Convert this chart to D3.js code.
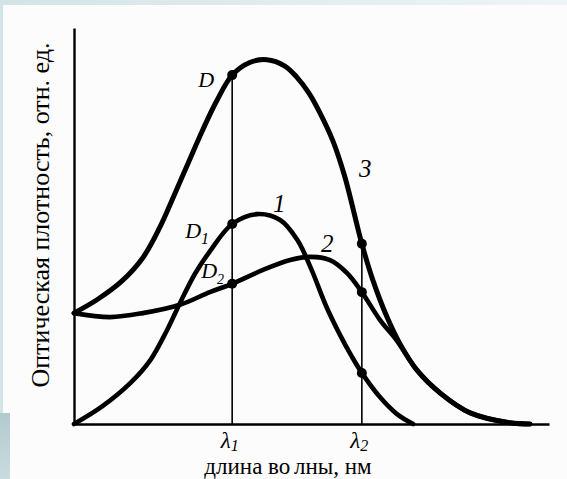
<!DOCTYPE html>
<html>
<head>
<meta charset="utf-8">
<script src="https://cdn.jsdelivr.net/npm/d3@7"></script>
<style>
  html, body { margin: 0; padding: 0; background: #fcfcfc; }
  svg { display: block; }
  .curve { fill: none; stroke: #000; stroke-linejoin: round; stroke-linecap: round; }
  .axis path { stroke: #000; stroke-width: 2.4; }
  .serif { font-family: "Liberation Serif", "DejaVu Serif", serif; fill: #000; }
  .hand { font-family: "Liberation Serif", serif; font-style: italic; fill: #000; }
</style>
</head>
<body>
<svg id="chart" width="567" height="479"></svg>
<script>
// wavelength (arbitrary units) at which the two measurements are taken
var lambdaX = [33.3, 60.6];
var lambdaSub = ['1', '2'];

// optical density, arbitrary units
var curve1 = [[0, 0], [6, 4.5], [12, 10.5], [16, 16], [19.5, 23.5], [22.5, 31], [25.5, 38],
  [28.6, 43.6], [33.3, 50.5], [38.5, 53.0], [43.4, 51.5], [47.0, 46.5], [50, 39],
  [53, 30], [56, 22.5], [58.5, 17], [60.6, 12.9], [64.4, 6.8], [68, 2.5], [71.4, 0]];

var curve2 = [[0, 28.0], [7.6, 27.0], [14.5, 28.0], [22.3, 30.1], [28.6, 33.3], [33.3, 35.4],
  [39.8, 38.9], [45.5, 41.4], [49.7, 42.2], [53.9, 41.4], [57.5, 38.1], [60.6, 33.3],
  [64.4, 26.3], [68.0, 21.0], [72.2, 13.6], [77.1, 7.8], [83.4, 2.8], [91.8, 0.3], [96, 0]];

var curve3 = [[0, 28.0], [5, 31.5], [10, 36.0], [14.5, 42.0], [18, 49.5], [21, 57.5],
  [24, 65.8], [27, 74.0], [30, 81.5], [33.3, 88.1], [37, 91.3], [40.6, 92.0], [44.4, 90.4],
  [46.9, 87.6], [49.5, 83.5], [51.8, 78.5], [54.5, 71.5], [57, 62.5],
  [60.6, 45.5], [62.9, 36.4], [65.9, 27.0], [68.6, 20.3], [72.2, 13.6], [77.1, 7.8],
  [83.4, 2.8], [91.8, 0.3], [96, 0]];

var curveNames = ['1', '2', '3'];
var curveLabelAt = [[43.2, 55.8], [53.3, 45.7], [61.3, 64.6]];

var svg = d3.select('#chart');

// page frame around the scanned picture
var defs = svg.append('defs');
var topGrad = defs.append('linearGradient').attr('id', 'topband');
topGrad.append('stop').attr('offset', '0%').attr('stop-color', '#d3e4e6');
topGrad.append('stop').attr('offset', '100%').attr('stop-color', '#eef5f8');
var sideGrad = defs.append('linearGradient').attr('id', 'sideband')
  .attr('x1', 0).attr('y1', 0).attr('x2', 0).attr('y2', 1);
sideGrad.append('stop').attr('offset', '0%').attr('stop-color', '#b2cace');
sideGrad.append('stop').attr('offset', '100%').attr('stop-color', '#c8dcde');

svg.append('rect').attr('width', 567).attr('height', 479).attr('fill', '#fcfcfc');
svg.append('rect').attr('width', 567).attr('height', 5).attr('fill', 'url(#topband)');
svg.append('rect').attr('y', 5).attr('width', 3).attr('height', 410).attr('fill', '#d3e4e6');
svg.append('rect').attr('y', 413).attr('width', 10).attr('height', 66).attr('fill', 'url(#sideband)');

var x = d3.scaleLinear().domain([0, 100]).range([74, 549]);
var y = d3.scaleLinear().domain([0, 100]).range([424, 28]);

// axes: plain lines, only the two wavelengths are marked
var xAxis = svg.append('g')
  .attr('class', 'axis')
  .attr('transform', 'translate(0,' + y(0) + ')')
  .call(d3.axisBottom(x).tickValues(lambdaX).tickSize(0).tickSizeOuter(0).tickFormat(''));

svg.append('g')
  .attr('class', 'axis')
  .attr('transform', 'translate(' + x(0) + ',0)')
  .call(d3.axisLeft(y).tickValues([]).tickSizeOuter(0));

xAxis.selectAll('.tick text').remove();
xAxis.selectAll('.tick').each(function(d, i) {
  var t = d3.select(this).append('text')
    .attr('class', 'hand')
    .attr('x', -3)
    .attr('y', 24)
    .attr('text-anchor', 'middle')
    .attr('font-size', 23);
  t.append('tspan').text('\u03bb');
  t.append('tspan').attr('font-size', 16).attr('dy', 3).text(lambdaSub[i]);
});

var curves = [curve1, curve2, curve3];

// reading lines up to the top curve
lambdaX.forEach(function(lx) {
  var top = d3.max(curves, function(c) {
    var p = c.find(function(q) { return q[0] === lx; });
    return p ? p[1] : 0;
  });
  svg.append('line')
    .attr('x1', x(lx)).attr('x2', x(lx))
    .attr('y1', y(0)).attr('y2', y(top))
    .attr('stroke', '#000')
    .attr('stroke-width', 1.6);
});

var line = d3.line()
  .x(function(d) { return x(d[0]); })
  .y(function(d) { return y(d[1]); })
  .curve(d3.curveCatmullRom.alpha(0.5));

svg.selectAll('path.curve')
  .data(curves)
  .enter().append('path')
  .attr('class', 'curve')
  .attr('stroke-width', function(d, i) { return i === 2 ? 5 : 4.6; })
  .attr('d', line);

// measured points where the curves meet the wavelength lines
curves.forEach(function(c) {
  c.filter(function(p) { return lambdaX.indexOf(p[0]) >= 0; })
    .forEach(function(p) {
      svg.append('circle')
        .attr('cx', x(p[0])).attr('cy', y(p[1]))
        .attr('r', 5)
        .attr('fill', '#000');
    });
});

// D, D1, D2 next to the points on the first wavelength line
var pointOffset = [[-47, 14], [-31, -6], [-34, 12]];
curves.forEach(function(c, i) {
  var p = c.find(function(q) { return q[0] === lambdaX[0]; });
  var t = svg.append('text')
    .attr('class', 'hand')
    .attr('x', x(p[0]) + pointOffset[i][0])
    .attr('y', y(p[1]) + pointOffset[i][1])
    .attr('font-size', 22);
  t.append('tspan').text('D');
  if (i < 2) {
    t.append('tspan').attr('font-size', i === 0 ? 16 : 14).attr('dy', 6).text(lambdaSub[i]);
  }
});

// curve numbers
svg.selectAll('text.num')
  .data(curveNames)
  .enter().append('text')
  .attr('class', 'hand num')
  .attr('x', function(d, i) { return x(curveLabelAt[i][0]); })
  .attr('y', function(d, i) { return y(curveLabelAt[i][1]) + 9; })
  .attr('text-anchor', 'middle')
  .attr('font-size', 25)
  .text(function(d) { return d; });

// axis titles
var xt = svg.append('text')
  .attr('class', 'serif')
  .attr('x', 288).attr('y', 474)
  .attr('text-anchor', 'middle')
  .attr('font-size', 23);
xt.append('tspan').text('длина во');
xt.append('tspan').attr('dx', 4).text('лны, нм');

svg.append('text')
  .attr('class', 'serif')
  .attr('transform', 'translate(49,215) rotate(-90)')
  .attr('text-anchor', 'middle')
  .attr('font-size', 26)
  .text('Оптическая плотность, отн. ед.');
</script>
</body>
</html>
